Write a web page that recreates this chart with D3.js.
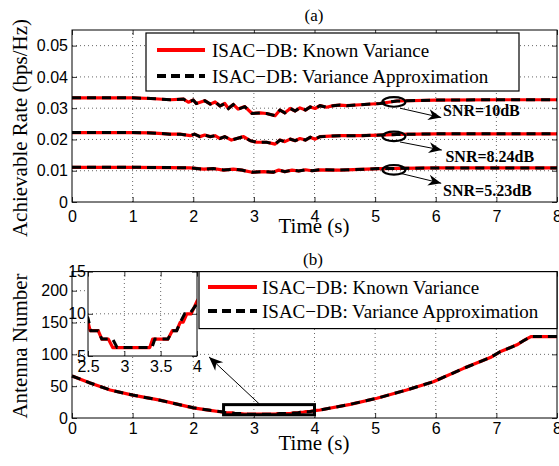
<!DOCTYPE html>
<html>
<head>
<meta charset="utf-8">
<script src="https://cdn.jsdelivr.net/npm/d3@7"></script>
<style>
  html, body { margin: 0; padding: 0; background: #fff; }
  svg { display: block; }
  .tick text { font-family: "Liberation Sans", Arial, sans-serif; font-size: 16px; fill: #000; }
</style>
</head>
<body>
<svg id="chart" width="559" height="466"></svg>
<script>
// ---------------- DATA ----------------
// (a) Achievable rate vs time
const timeSnr10 = [0, 0.5, 1.0, 1.3, 1.62, 1.84, 1.92, 2.0, 2.05, 2.19, 2.28, 2.36, 2.44, 2.52, 2.58, 2.66, 2.74, 2.85, 2.97, 3.10, 3.21, 3.35, 3.43, 3.51, 3.60, 3.68, 3.76, 3.85, 3.93, 4.01, 4.09, 4.20, 4.31, 4.42, 4.53, 4.75, 5.08, 5.36, 6, 7, 8];
const rateSnr10Known = [0.0333, 0.0333, 0.0333, 0.0331, 0.0327, 0.0329, 0.0319, 0.0326, 0.0315, 0.0324, 0.0313, 0.0320, 0.0307, 0.0315, 0.0299, 0.0312, 0.0297, 0.0305, 0.0283, 0.0285, 0.0283, 0.0276, 0.0294, 0.0285, 0.0299, 0.0291, 0.0301, 0.0294, 0.0304, 0.0299, 0.0308, 0.0303, 0.0308, 0.0310, 0.0308, 0.0311, 0.0315, 0.0323, 0.0326, 0.0327, 0.0327];
const rateSnr10Approx = [0.0333, 0.0333, 0.0333, 0.0331, 0.0327, 0.0329, 0.0319, 0.0326, 0.0315, 0.0324, 0.0313, 0.0320, 0.0307, 0.0315, 0.0299, 0.0312, 0.0297, 0.0305, 0.0283, 0.0285, 0.0283, 0.0276, 0.0294, 0.0285, 0.0299, 0.0291, 0.0301, 0.0294, 0.0304, 0.0299, 0.0308, 0.0303, 0.0308, 0.0310, 0.0308, 0.0311, 0.0315, 0.0323, 0.0326, 0.0327, 0.0327];

const timeSnr824 = [0, 0.5, 1.0, 1.3, 1.62, 1.78, 1.95, 2.02, 2.11, 2.19, 2.28, 2.36, 2.44, 2.52, 2.63, 2.72, 2.83, 2.94, 3.05, 3.21, 3.35, 3.43, 3.51, 3.60, 3.68, 3.76, 3.85, 3.93, 4.01, 4.09, 4.42, 4.75, 5.08, 5.36, 6, 7, 8];
const rateSnr824Known = [0.0222, 0.0222, 0.0222, 0.0221, 0.0217, 0.0217, 0.0212, 0.0217, 0.0209, 0.0214, 0.0209, 0.0212, 0.0203, 0.0209, 0.0198, 0.0203, 0.0209, 0.0196, 0.0191, 0.0191, 0.0185, 0.0198, 0.0193, 0.0201, 0.0196, 0.0203, 0.0198, 0.0207, 0.0201, 0.0209, 0.0212, 0.0212, 0.0214, 0.0216, 0.0218, 0.0218, 0.0218];
const rateSnr824Approx = [0.0222, 0.0222, 0.0222, 0.0221, 0.0217, 0.0217, 0.0212, 0.0217, 0.0209, 0.0214, 0.0209, 0.0212, 0.0203, 0.0209, 0.0198, 0.0203, 0.0209, 0.0196, 0.0191, 0.0191, 0.0185, 0.0198, 0.0193, 0.0201, 0.0196, 0.0203, 0.0198, 0.0207, 0.0201, 0.0209, 0.0212, 0.0212, 0.0214, 0.0216, 0.0218, 0.0218, 0.0218];

const timeSnr523 = [0, 0.5, 1.0, 1.62, 1.95, 2.17, 2.33, 2.50, 2.66, 2.80, 2.97, 3.16, 3.32, 3.41, 3.51, 3.63, 3.74, 3.85, 3.96, 4.09, 4.42, 5.08, 6, 7, 8];
const rateSnr523Known = [0.0111, 0.0111, 0.0111, 0.0110, 0.0109, 0.0105, 0.0107, 0.0102, 0.0105, 0.0102, 0.0095, 0.0097, 0.0095, 0.0102, 0.0097, 0.0102, 0.0099, 0.0103, 0.0100, 0.0103, 0.0102, 0.0107, 0.0109, 0.0109, 0.0109];
const rateSnr523Approx = [0.0111, 0.0111, 0.0111, 0.0110, 0.0109, 0.0105, 0.0107, 0.0102, 0.0105, 0.0102, 0.0095, 0.0097, 0.0095, 0.0102, 0.0097, 0.0102, 0.0099, 0.0103, 0.0100, 0.0103, 0.0102, 0.0107, 0.0109, 0.0109, 0.0109];

// (b) Antenna number vs time
const timeAntKnown = [0, 0.3, 0.63, 1.0, 1.45, 2.0, 2.25, 2.5, 2.53, 2.64, 2.69, 2.78, 2.84, 3.35, 3.39, 3.60, 3.66, 3.72, 3.77, 3.81, 3.86, 3.92, 4.0, 4.09, 4.59, 5.03, 5.52, 5.96, 6.46, 6.90, 7.06, 7.34, 7.44, 7.57, 8.0];
const antKnown     = [66, 55, 44, 36, 28, 16, 12.5, 9, 8, 8, 7, 7, 6, 6, 7, 7, 8, 8, 9, 9, 10, 10, 11.5, 12.6, 21.5, 31, 44, 57, 78, 95, 104, 115, 121, 128, 128];
const timeAntApprox = [0, 0.3, 0.63, 1.0, 1.45, 2.0, 2.25, 2.5, 2.54, 2.64, 2.69, 2.84, 2.90, 3.38, 3.42, 3.60, 3.66, 3.72, 3.77, 3.83, 3.90, 4.0, 4.09, 4.59, 5.03, 5.52, 5.96, 6.46, 6.90, 7.06, 7.34, 7.44, 7.57, 8.0];
const antApprox     = [66, 55, 44, 36, 28, 16, 12.5, 9.5, 8, 8, 7, 7, 6, 6, 7, 7, 8, 8, 9, 10, 10, 11.2, 12.6, 21.5, 31, 44, 57, 78, 95, 104, 115, 121, 128, 128];

// ticks & labels
const timeTicks = [0, 1, 2, 3, 4, 5, 6, 7, 8];
const rateTicks = [0, 0.01, 0.02, 0.03, 0.04, 0.05];
const rateTickLabels = ["0", "0.01", "0.02", "0.03", "0.04", "0.05"];
const antTicks = [0, 50, 100, 150, 200];
const insetTimeTicks = [2.5, 3, 3.5, 4];
const insetAntTicks = [5, 10, 15];
const legendLabels = ["ISAC\u2212DB: Known Variance", "ISAC\u2212DB: Variance Approximation"];

// annotations (data units)
const snrLabels = ["SNR=10dB", "SNR=8.24dB", "SNR=5.23dB"];
const snrEllipseT = [5.31, 5.31, 5.31];
const snrEllipseV = [0.0320, 0.0210, 0.0103];
const snrArrowFrom = [[5.41, 0.0300], [5.41, 0.0192], [5.41, 0.0092]];
const snrArrowTo = [[6.09, 0.0270], [6.10, 0.0166], [6.09, 0.0060]];
const snrLabelPos = [[6.12, 0.0275], [6.16, 0.0128], [6.12, 0.0019]];
const zoomRect = { t0: 2.5, t1: 4, v0: 5, v1: 21 };
const zoomArrow = { from: [3.09, 22], to: [2.26, 96] };

// ---------------- DRAWING ----------------
const svg = d3.select("#chart");
svg.append("rect").attr("width", 559).attr("height", 466).attr("fill", "#fff");

const serif = "'Liberation Serif', 'Times New Roman', serif";
const RED = "#ff0000";

function zip(ts, vs) { return ts.map((t, i) => [t, vs[i]]); }

function grid(g, x, y, xv, yv, x0, x1, y0, y1) {
  const gg = g.append("g").attr("stroke", "#000").attr("stroke-width", 0.8)
    .attr("stroke-dasharray", "1,3").attr("stroke-opacity", 0.75);
  xv.forEach(v => gg.append("line").attr("x1", x(v)).attr("x2", x(v)).attr("y1", y(y0)).attr("y2", y(y1)));
  yv.forEach(v => gg.append("line").attr("x1", x(x0)).attr("x2", x(x1)).attr("y1", y(v)).attr("y2", y(v)));
}

function axes(g, x, y, xv, yv, xPad, yPad, yFmt) {
  const [ya, yb] = y.range();
  const [xa, xb] = x.range();
  g.append("g").attr("transform", `translate(0,${ya})`)
    .call(d3.axisBottom(x).tickValues(xv).tickSize(-5).tickPadding(xPad).tickFormat(d3.format("")))
    .call(s => s.select(".domain").remove());
  g.append("g").attr("transform", `translate(0,${yb})`)
    .call(d3.axisTop(x).tickValues(xv).tickSize(-5).tickFormat(""))
    .call(s => s.select(".domain").remove());
  g.append("g").attr("transform", `translate(${xa},0)`)
    .call(d3.axisLeft(y).tickValues(yv).tickSize(-5).tickPadding(yPad).tickFormat(yFmt))
    .call(s => s.select(".domain").remove());
  g.append("g").attr("transform", `translate(${xb},0)`)
    .call(d3.axisRight(y).tickValues(yv).tickSize(-5).tickFormat(""))
    .call(s => s.select(".domain").remove());
  g.selectAll(".tick line").attr("stroke", "#000").attr("stroke-width", 0.8);
  g.append("rect").attr("x", xa).attr("y", yb).attr("width", xb - xa).attr("height", ya - yb)
    .attr("fill", "none").attr("stroke", "#000").attr("stroke-width", 1);
}

function drawPair(g, line, known, approx) {
  g.append("path").datum(known).attr("d", line).attr("fill", "none")
    .attr("stroke", RED).attr("stroke-width", 3.2).attr("stroke-linejoin", "round");
  g.append("path").datum(approx).attr("d", line).attr("fill", "none")
    .attr("stroke", "#000").attr("stroke-width", 3).attr("stroke-dasharray", "9,6");
}

function legend(g, x0, y0, w, h, lx0, lx1, tx, rows) {
  g.append("rect").attr("x", x0).attr("y", y0).attr("width", w).attr("height", h)
    .attr("fill", "#fff").attr("stroke", "#000").attr("stroke-width", 1.2);
  g.append("line").attr("x1", lx0).attr("x2", lx1).attr("y1", rows[0]).attr("y2", rows[0])
    .attr("stroke", RED).attr("stroke-width", 4);
  g.append("line").attr("x1", lx0).attr("x2", lx1).attr("y1", rows[1]).attr("y2", rows[1])
    .attr("stroke", "#000").attr("stroke-width", 4).attr("stroke-dasharray", "9,5");
  legendLabels.forEach((t, i) => g.append("text").attr("x", tx).attr("y", rows[i]).attr("dy", "0.35em")
    .attr("font-family", serif).attr("font-size", 19).text(t));
}

function arrow(g, p0, p1, size) {
  g.append("line").attr("x1", p0[0]).attr("y1", p0[1]).attr("x2", p1[0]).attr("y2", p1[1])
    .attr("stroke", "#000").attr("stroke-width", 1);
  const ang = Math.atan2(p1[1] - p0[1], p1[0] - p0[0]) * 180 / Math.PI;
  const L = size, W = size * 0.42;
  g.append("path").attr("d", `M0,0 L${-L},${-W} L${-L * 0.7},0 L${-L},${W} Z`)
    .attr("transform", `translate(${p1[0]},${p1[1]}) rotate(${ang})`).attr("fill", "#000");
}

// ===== Panel (a) =====
const xa = d3.scaleLinear().domain([0, 8]).range([72, 557]);
const ya = d3.scaleLinear().domain([0, 0.055]).range([202, 30]);
const gA = svg.append("g");
grid(gA, xa, ya, timeTicks.slice(1, -1), rateTicks.slice(1), 0, 8, 0, 0.055);
const lineA = d3.line().x(d => xa(d[0])).y(d => ya(d[1]));
drawPair(gA, lineA, zip(timeSnr10, rateSnr10Known), zip(timeSnr10, rateSnr10Approx));
drawPair(gA, lineA, zip(timeSnr824, rateSnr824Known), zip(timeSnr824, rateSnr824Approx));
drawPair(gA, lineA, zip(timeSnr523, rateSnr523Known), zip(timeSnr523, rateSnr523Approx));
axes(gA, xa, ya, timeTicks, rateTicks, 8.5, 4, (d, i) => rateTickLabels[i]);
legend(gA, 146, 33, 373, 58, 157, 205, 212, [50, 76]);

snrLabels.forEach((lab, i) => {
  gA.append("ellipse").attr("cx", xa(snrEllipseT[i])).attr("cy", ya(snrEllipseV[i]))
    .attr("rx", 11.5).attr("ry", 4.8).attr("fill", "none").attr("stroke", "#000").attr("stroke-width", 2.2);
  arrow(gA, [xa(snrArrowFrom[i][0]), ya(snrArrowFrom[i][1])], [xa(snrArrowTo[i][0]), ya(snrArrowTo[i][1])], 13);
  gA.append("text").attr("x", xa(snrLabelPos[i][0])).attr("y", ya(snrLabelPos[i][1]))
    .attr("font-family", serif).attr("font-size", 16).attr("font-weight", "bold").text(lab);
});

gA.append("text").attr("x", 314).attr("y", 21).attr("text-anchor", "middle")
  .attr("font-family", serif).attr("font-size", 17).text("(a)");
gA.append("text").attr("x", 314).attr("y", 233).attr("text-anchor", "middle")
  .attr("font-family", serif).attr("font-size", 21).text("Time (s)");
gA.append("text").attr("transform", "translate(27,128) rotate(-90)").attr("text-anchor", "middle")
  .attr("font-family", serif).attr("font-size", 21).text("Achievable Rate (bps/Hz)");

// ===== Panel (b) =====
const xb = d3.scaleLinear().domain([0, 8]).range([72, 557]);
const yb = d3.scaleLinear().domain([0, 230]).range([418, 271.6]);
const gB = svg.append("g");
grid(gB, xb, yb, timeTicks.slice(1, -1), antTicks.slice(1), 0, 8, 0, 230);
const lineB = d3.line().x(d => xb(d[0])).y(d => yb(d[1]));
drawPair(gB, lineB, zip(timeAntKnown, antKnown), zip(timeAntApprox, antApprox));
gB.append("rect").attr("x", xb(zoomRect.t0)).attr("y", yb(zoomRect.v1))
  .attr("width", xb(zoomRect.t1) - xb(zoomRect.t0)).attr("height", yb(zoomRect.v0) - yb(zoomRect.v1))
  .attr("fill", "none").attr("stroke", "#000").attr("stroke-width", 3);
axes(gB, xb, yb, timeTicks, antTicks, 5, 4, d3.format(""));
legend(gB, 199, 271.6, 358, 57, 208, 257, 262, [287, 311]);

gB.append("text").attr("x", 313).attr("y", 265).attr("text-anchor", "middle")
  .attr("font-family", serif).attr("font-size", 17).text("(b)");
gB.append("text").attr("x", 314).attr("y", 450).attr("text-anchor", "middle")
  .attr("font-family", serif).attr("font-size", 21).text("Time (s)");
gB.append("text").attr("transform", "translate(27,346) rotate(-90)").attr("text-anchor", "middle")
  .attr("font-family", serif).attr("font-size", 21).text("Antenna Number");

// inset
const xi = d3.scaleLinear().domain([2.5, 4]).range([88, 197]);
const yi = d3.scaleLinear().domain([5, 15]).range([356, 271.6]);
const gI = svg.append("g");
gI.append("rect").attr("x", 88).attr("y", 271.6).attr("width", 109).attr("height", 84.4).attr("fill", "#fff");
grid(gI, xi, yi, [3, 3.5], [10], 2.5, 4, 5, 15);
svg.append("clipPath").attr("id", "insetClip").append("rect")
  .attr("x", 88).attr("y", 271.6).attr("width", 109).attr("height", 84.4);
const gIL = gI.append("g").attr("clip-path", "url(#insetClip)");
const lineI = d3.line().x(d => xi(d[0])).y(d => yi(d[1]));
drawPair(gIL, lineI, zip(timeAntKnown, antKnown), zip(timeAntApprox, antApprox));
axes(gI, xi, yi, insetTimeTicks, insetAntTicks, 5, 2, d3.format(""));
gI.selectAll(".tick text").attr("font-size", 15);

arrow(svg, [xb(zoomArrow.from[0]), yb(zoomArrow.from[1])], [xb(zoomArrow.to[0]), yb(zoomArrow.to[1])], 14);
</script>
</body>
</html>
